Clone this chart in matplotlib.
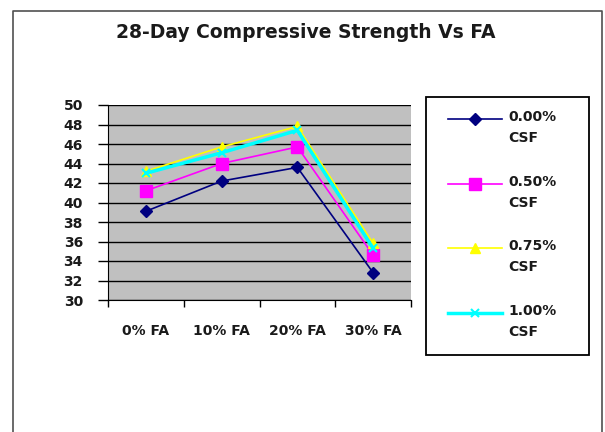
import matplotlib.pyplot as plt
from matplotlib.patches import Rectangle

# data
categories = ['0% FA', '10% FA', '20% FA', '30% FA']
csf_labels = ['0.00%\nCSF', '0.50%\nCSF', '0.75%\nCSF', '1.00%\nCSF']
csf_000 = [39.1, 42.2, 43.6, 32.8]
csf_050 = [41.2, 44.0, 45.7, 34.6]
csf_075 = [43.2, 45.7, 47.8, 35.8]
csf_100 = [43.0, 45.1, 47.4, 35.3]
yticks = list(range(30, 51, 2))

series = [csf_000, csf_050, csf_075, csf_100]
colors = ['#000080', '#FF00FF', '#FFFF00', '#00FFFF']
markers = ['D', 's', '^', 'x']
msizes = [6, 8, 7, 6]
lws = [1.2, 1.2, 1.2, 2.5]

plt.rcParams['font.family'] = 'DejaVu Sans'
plt.rcParams['font.weight'] = 'bold'

W, H = 605, 432
fig = plt.figure(figsize=(W / 100, H / 100), dpi=100)

# overlay axes in pixel units for the frame and the legend
lax = fig.add_axes([0, 0, 1, 1])
lax.set_xlim(0, W)
lax.set_ylim(H, 0)
lax.axis('off')
lax.plot([13, 13, 602, 602], [440, 11, 11, 440], color='#505050', lw=1.2)
lax.add_patch(Rectangle((426, 97), 163, 258, fill=False, ec='black', lw=1.3))
lax.text(306, 33, '28-Day Compressive Strength Vs FA', ha='center', va='center',
         fontsize=13.5, fontweight='bold', color='#1a1a1a')

row_y = [119, 184, 248, 313]
for vals, lab, c, m, ms, lw, y in zip(series, csf_labels, colors, markers, msizes, lws, row_y):
    lax.plot([448, 502], [y, y], color=c, lw=lw)
    lax.plot([475], [y], marker=m, color=c, ms=ms, mew=1.5 if m == 'x' else 1)
    lax.text(508, y - 9, lab, ha='left', va='top', fontsize=10, fontweight='bold',
             color='#1a1a1a', linespacing=1.6)

ax = fig.add_axes([108 / W, (H - 300) / H, 303 / W, 195 / H])
ax.set_facecolor('#C0C0C0')
x = list(range(len(categories)))
for vals, c, m, ms, lw in zip(series, colors, markers, msizes, lws):
    ax.plot(x, vals, color=c, marker=m, ms=ms, lw=lw, mew=1.5 if m == 'x' else 1, zorder=3)

ax.set_ylim(30, 50)
ax.set_xlim(-0.5, 3.5)
ax.set_yticks(yticks)
ax.set_yticklabels([str(t) for t in yticks], fontsize=10, fontweight='bold', color='#1a1a1a')
ax.set_xticks(x)
ax.set_xticklabels(categories, fontsize=10, fontweight='bold', color='#1a1a1a')
ax.set_xticks([i - 0.5 for i in range(len(categories) + 1)], minor=True)
ax.tick_params(axis='x', which='major', length=0, pad=17)
ax.tick_params(axis='x', which='minor', length=5, width=1, direction='out')
ax.tick_params(axis='y', length=7, width=1, direction='out', pad=11)
ax.grid(axis='y', color='black', lw=1)
ax.set_axisbelow(True)
for s in ['top', 'right']:
    ax.spines[s].set_visible(False)
ax.spines['left'].set_color('black')
ax.spines['bottom'].set_color('black')

fig.savefig('out.png', dpi=100)
